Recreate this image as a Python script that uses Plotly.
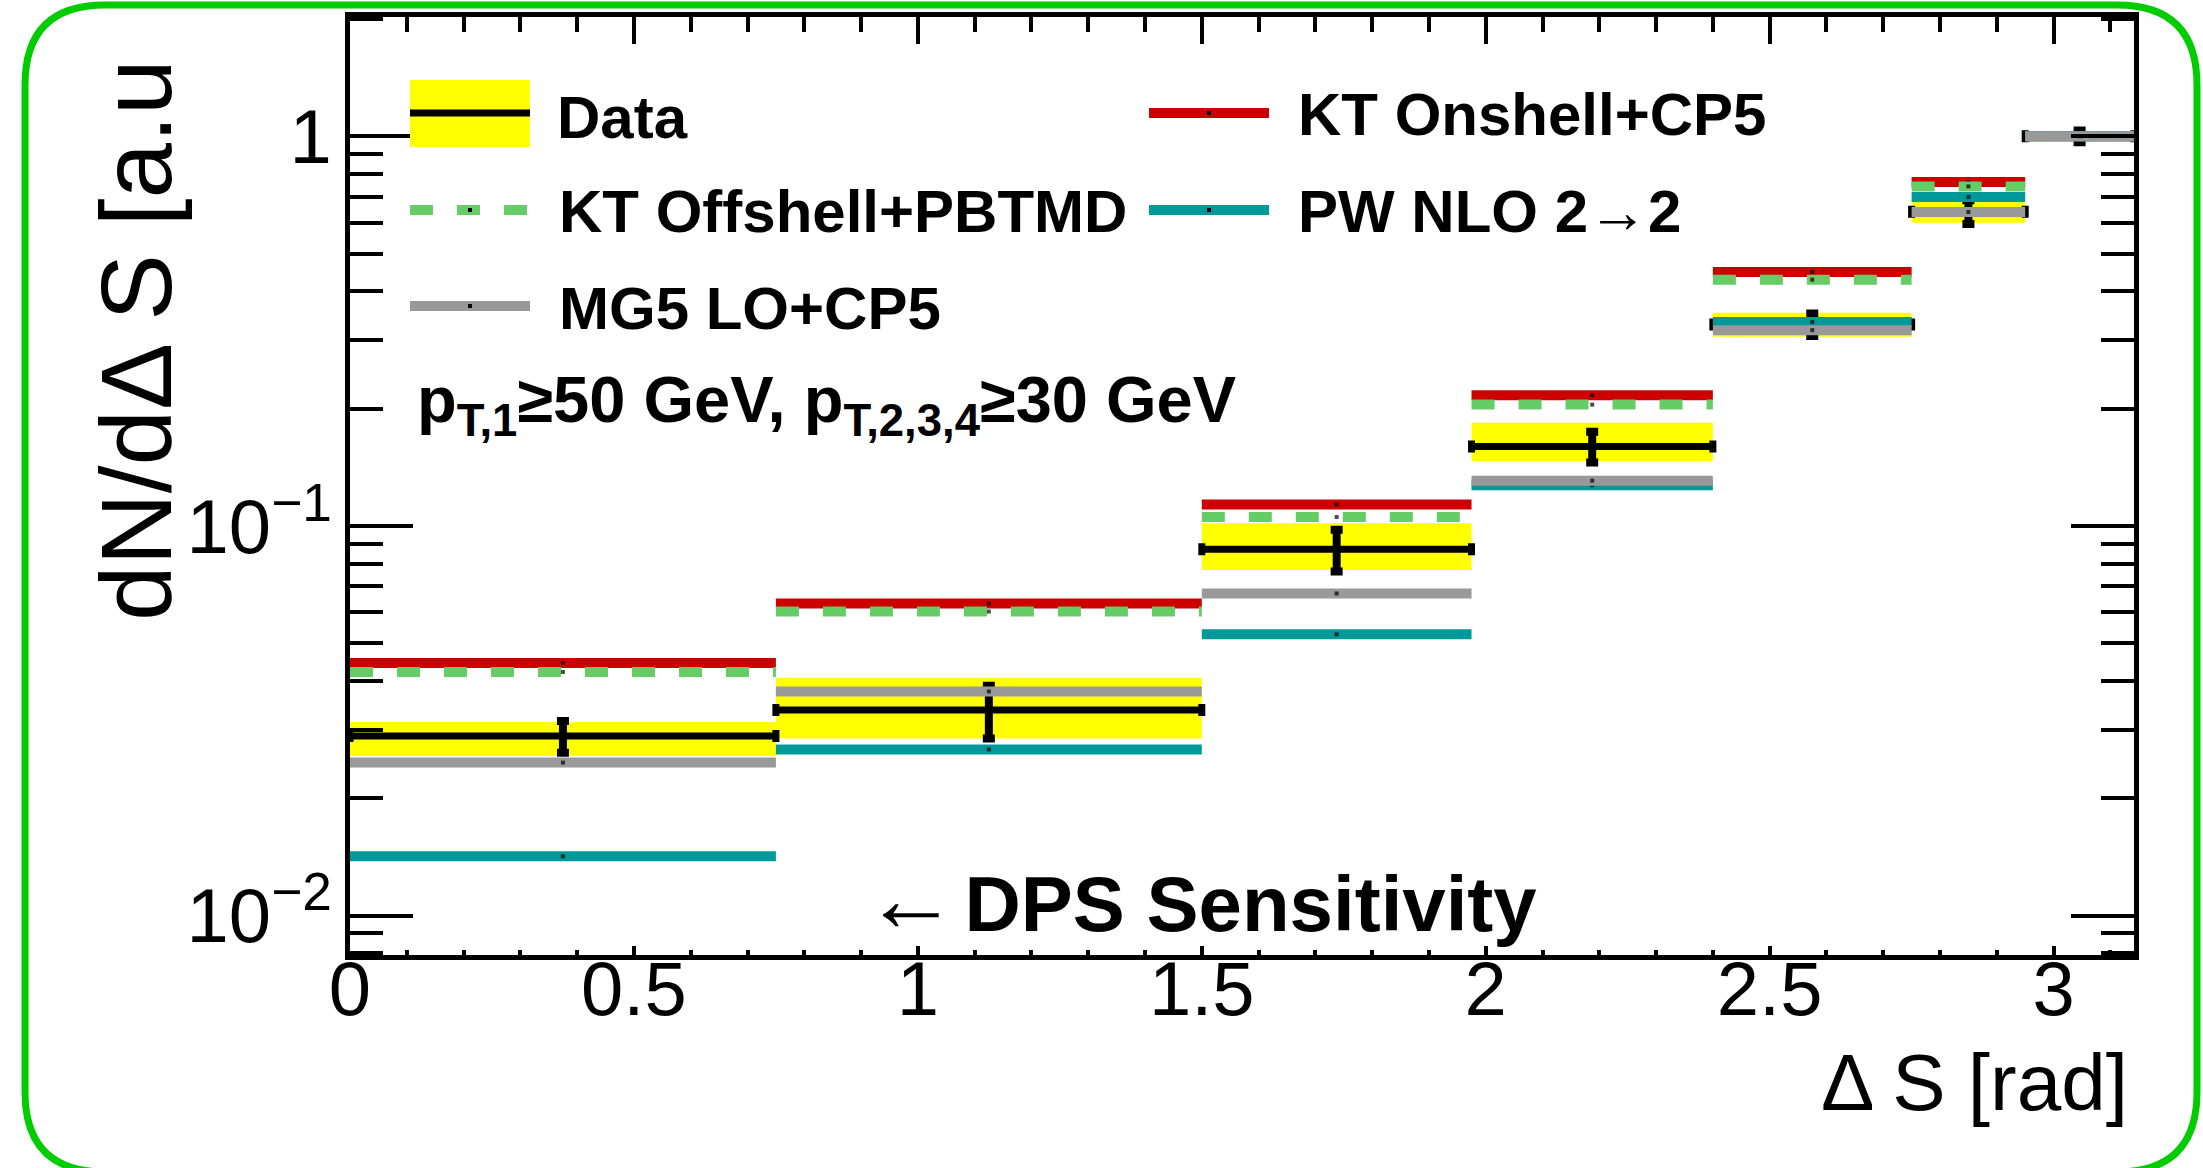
import plotly.graph_objects as go

# ---- data -------------------------------------------------------------
bin_edges = [0.0, 0.75, 1.5, 1.975, 2.40, 2.75, 2.95, 3.1416]

data_val = [0.0289, 0.0337, 0.0871, 0.160, 0.329, 0.640, 1.0]
data_stat = [0.0027, 0.0052, 0.0107, 0.0145, 0.022, 0.045, 0.035]
data_band_lo = [0.0257, 0.0285, 0.0771, 0.1468, 0.306, 0.600, 1.0]
data_band_hi = [0.0314, 0.0408, 0.1016, 0.1840, 0.3526, 0.690, 1.0]

kt_onshell = [0.0445, 0.0632, 0.1135, 0.2166, 0.4485, 0.763, 1.0]
kt_offshell = [0.0422, 0.0603, 0.1054, 0.2048, 0.4286, 0.7436, 1.0]
pw_nlo = [0.0142, 0.0267, 0.0527, 0.1272, 0.3335, 0.698, 1.0]
mg5_lo = [0.0247, 0.0376, 0.0671, 0.1307, 0.318, 0.639, 1.0]

y_tick_vals = [0.01, 0.1, 1]
y_tick_text = ["10<sup>\u22122</sup>", "10<sup>\u22121</sup>", "1"]
y_minor_vals = [0.008, 0.009, 0.02, 0.03, 0.04, 0.05, 0.06, 0.07, 0.08, 0.09,
                0.2, 0.3, 0.4, 0.5, 0.6, 0.7, 0.8, 0.9, 2]

# ---- styling ----------------------------------------------------------
W, H = 2203, 1168
ML, MR, MT, MB = 350, 69, 17, 213
PW, PH = W - ML - MR, H - MT - MB
FONT = "Liberation Sans"
RED = "#cc0000"
GREEN = "#66cc66"
TEAL = "#009999"
GRAY = "#999999"
YELLOW = "#ffff00"
LW = 10

XR = [0, 3.1416]
YR = [-2.101, 0.306]


def px_x(px):
    return (px - ML) / PW


def px_y(py):
    return (H - MB - py) / PH


centers = [(a + b) / 2 for a, b in zip(bin_edges[:-1], bin_edges[1:])]
halfw = [(b - a) / 2 for a, b in zip(bin_edges[:-1], bin_edges[1:])]


def step_segments(vals):
    xs, ys, sz = [], [], []
    for a, b, c, v in zip(bin_edges[:-1], bin_edges[1:], centers, vals):
        xs += [a, c, b, None]
        ys += [v, v, v, None]
        sz += [0, 4, 0, 0]
    return xs, ys, sz


fig = go.Figure()

# uncertainty band of the measurement
bx, by = [], []
for a, b, lo, hi in zip(bin_edges[:-1], bin_edges[1:], data_band_lo, data_band_hi):
    bx += [a, b, b, a, a, None]
    by += [lo, lo, hi, hi, lo, None]
fig.add_trace(go.Scatter(x=bx, y=by, fill="toself", fillcolor=YELLOW,
                         line=dict(width=0), mode="lines",
                         hoverinfo="skip", showlegend=False))

# measured points
fig.add_trace(go.Scatter(
    x=centers, y=data_val, mode="markers",
    marker=dict(size=1, color="black"),
    error_x=dict(type="data", array=halfw, color="black", thickness=7, width=6),
    error_y=dict(type="data", array=data_stat, color="black", thickness=8, width=6),
    name="Data", showlegend=False))

# predictions
for vals, col, dash, name in [
    (kt_onshell, RED, "solid", "KT Onshell+CP5"),
    (kt_offshell, GREEN, "23px,24px", "KT Offshell+PBTMD"),
    (pw_nlo, TEAL, "solid", "PW NLO 2\u21922"),
    (mg5_lo, GRAY, "solid", "MG5 LO+CP5"),
]:
    xs, ys, sz = step_segments(vals)
    fig.add_trace(go.Scatter(
        x=xs, y=ys, mode="lines+markers",
        line=dict(color=col, width=LW, dash=dash),
        marker=dict(size=sz, color="black", symbol="square", line=dict(width=0)),
        name=name, showlegend=False))

# empty traces so the mirrored frame axes (top / right) get drawn
fig.add_trace(go.Scatter(x=[None], y=[None], xaxis="x2", yaxis="y",
                         mode="lines", hoverinfo="skip", showlegend=False))
fig.add_trace(go.Scatter(x=[None], y=[None], xaxis="x", yaxis="y2",
                         mode="lines", hoverinfo="skip", showlegend=False))

# ---- axes -------------------------------------------------------------
tickfont = dict(family=FONT, size=76, color="black")
fig.update_layout(
    width=W, height=H,
    margin=dict(l=ML, r=MR, t=MT, b=MB, pad=0),
    paper_bgcolor="white", plot_bgcolor="white",
    showlegend=False,
    xaxis=dict(range=XR, showgrid=False, zeroline=False,
               showline=True, linecolor="black", linewidth=5,
               ticks="inside", ticklen=9, tickwidth=4, tickcolor="black",
               tickmode="linear", tick0=0, dtick=0.5,
               minor=dict(ticks="inside", ticklen=5, tickwidth=4,
                          tickcolor="black", dtick=0.1, tick0=0),
               tickfont=tickfont, ticklabelstandoff=-36),
    xaxis2=dict(range=XR, overlaying="x", side="top", anchor="y",
                showgrid=False, zeroline=False,
                showline=True, linecolor="black", linewidth=5,
                ticks="inside", ticklen=27, tickwidth=4, tickcolor="black",
                tickmode="linear", tick0=0, dtick=0.5,
                minor=dict(ticks="inside", ticklen=15, tickwidth=4,
                           tickcolor="black", dtick=0.1, tick0=0),
                showticklabels=False),
    yaxis=dict(type="log", range=YR, showgrid=False, zeroline=False,
               showline=True, linecolor="black", linewidth=5,
               ticks="inside", ticklen=63, tickwidth=4, tickcolor="black",
               tickmode="array", tickvals=y_tick_vals, ticktext=y_tick_text,
               minor=dict(ticks="inside", ticklen=33, tickwidth=4,
                          tickcolor="black", tickmode="array",
                          tickvals=y_minor_vals),
               tickfont=tickfont, ticklabelstandoff=-2),
    yaxis2=dict(type="log", range=YR, overlaying="y", side="right", anchor="x",
                showgrid=False, zeroline=False,
                showline=True, linecolor="black", linewidth=5,
                ticks="inside", ticklen=63, tickwidth=4, tickcolor="black",
                tickmode="array", tickvals=y_tick_vals,
                minor=dict(ticks="inside", ticklen=33, tickwidth=4,
                           tickcolor="black", tickmode="array",
                           tickvals=y_minor_vals),
                showticklabels=False),
)

annotations = []
shapes = []

# axis titles
annotations.append(dict(
    text="dN/d\u0394 S [a.u", xref="paper", yref="paper",
    x=px_x(136), y=px_y(340), xanchor="center", yanchor="middle",
    textangle=-90, showarrow=False,
    font=dict(family=FONT, size=100, color="black")))
annotations.append(dict(
    text="\u0394 S [rad]", xref="paper", yref="paper",
    x=px_x(2130), y=px_y(1082), xanchor="right", yanchor="middle",
    showarrow=False, font=dict(family=FONT, size=80, color="black")))

# legend (drawn by hand, two columns)
BOLD = dict(family=FONT, size=60, color="black", weight="bold")
sx0, sx1 = 410, 530
cx0, cx1 = 1149, 1269
shapes.append(dict(type="rect", xref="paper", yref="paper",
                   x0=px_x(sx0), x1=px_x(sx1), y0=px_y(147), y1=px_y(80),
                   fillcolor=YELLOW, line=dict(width=0), layer="above"))
shapes.append(dict(type="line", xref="paper", yref="paper",
                   x0=px_x(sx0), x1=px_x(sx1), y0=px_y(113), y1=px_y(113),
                   line=dict(color="black", width=7), layer="above"))
legend_lines = [
    (sx0, sx1, 210, GREEN, "23px,24px", "KT Offshell+PBTMD", 557),
    (sx0, sx1, 306, GRAY, "solid", "MG5 LO+CP5", 557),
    (cx0, cx1, 113, RED, "solid", "KT Onshell+CP5", 1296),
    (cx0, cx1, 210, TEAL, "solid", "PW NLO 2\u21922", 1296),
]
for x0, x1, yy, col, dash, label, tx in legend_lines:
    shapes.append(dict(type="line", xref="paper", yref="paper",
                       x0=px_x(x0), x1=px_x(x1), y0=px_y(yy), y1=px_y(yy),
                       line=dict(color=col, width=LW, dash=dash), layer="above"))
    xm = (x0 + x1) / 2
    shapes.append(dict(type="rect", xref="paper", yref="paper",
                       x0=px_x(xm - 2), x1=px_x(xm + 2),
                       y0=px_y(yy + 2), y1=px_y(yy - 2),
                       fillcolor="black", line=dict(width=0), layer="above"))
    annotations.append(dict(text=label, xref="paper", yref="paper",
                            x=px_x(tx), y=px_y(yy + 2), xanchor="left",
                            yanchor="middle", showarrow=False, font=BOLD))
annotations.append(dict(text="Data", xref="paper", yref="paper",
                        x=px_x(555), y=px_y(117), xanchor="left",
                        yanchor="middle", showarrow=False, font=BOLD))

# selection text
annotations.append(dict(
    text="p<sub>T,1</sub>\u226550 GeV, p<sub>T,2,3,4</sub>\u226530 GeV",
    xref="paper", yref="paper", x=px_x(415), y=px_y(404),
    xanchor="left", yanchor="middle", showarrow=False,
    font=dict(family=FONT, size=65, color="black", weight="bold")))

annotations.append(dict(
    text="<span style='font-weight:normal;font-size:94px'>\u2190</span>\u200aDPS Sensitivity",
    xref="paper", yref="paper", x=px_x(862), y=px_y(898),
    xanchor="left", yanchor="middle", showarrow=False,
    font=dict(family=FONT, size=78, color="black", weight="bold")))

# rounded green frame around the canvas
L, R, T, B, r = 25, 2197, 5, 1172, 80
pts = [
    ("M", [(L + r, T)]), ("L", [(R - r, T)]), ("Q", [(R, T), (R, T + r)]),
    ("L", [(R, B - r)]), ("Q", [(R, B), (R - r, B)]), ("L", [(L + r, B)]),
    ("Q", [(L, B), (L, B - r)]), ("L", [(L, T + r)]), ("Q", [(L, T), (L + r, T)]),
]
path = " ".join(c + " " + " ".join(f"{px_x(a):.5f},{px_y(b):.5f}" for a, b in p)
                for c, p in pts) + " Z"
shapes.append(dict(type="path", path=path, xref="paper", yref="paper",
                   line=dict(color="#00cc00", width=7), layer="above"))

fig.update_layout(annotations=annotations, shapes=shapes)

fig.write_html("out.html")
